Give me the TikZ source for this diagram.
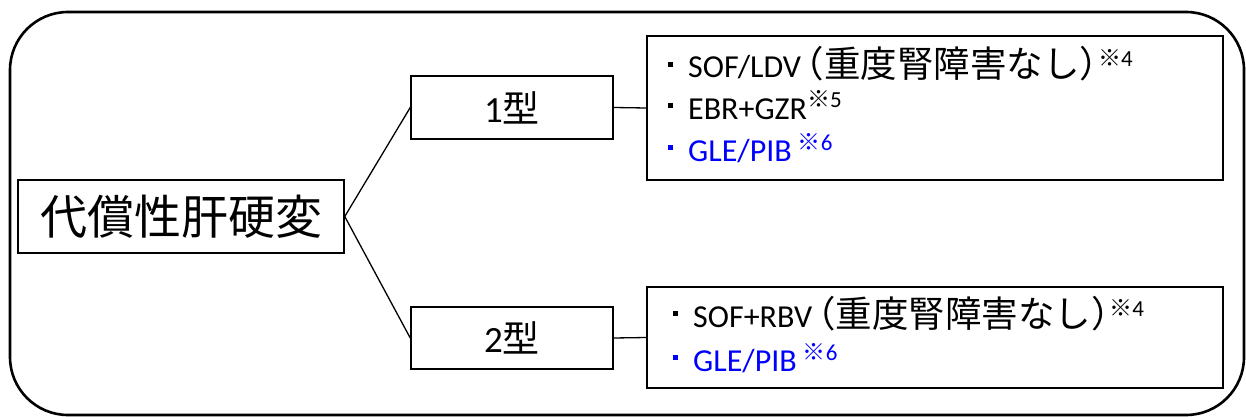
\documentclass[tikz,border=0pt]{standalone}
\usepackage{fontspec}
\setmainfont{Carlito}
\newfontfamily\jp{Noto Sans CJK JP}
\newfontfamily\jph{Noto Sans CJK JP}[RawFeature=+halt]
\newcommand{\sqbul}{\hspace*{2pt}\rule[11pt]{5pt}{5pt}\hspace*{15pt}}
\newcommand{\refmark}[1]{\raisebox{11pt}{\fontsize{23}{23}\selectfont{\jp ※}#1}}
\newcommand{\jpbig}[1]{{\fontsize{36.5}{40}\selectfont\jp #1}}
\newcommand{\jpparen}[1]{{\fontsize{36.5}{40}\selectfont\jph #1}}
\begin{document}
\begin{tikzpicture}[x=1pt,y=-1pt,
  box/.style={draw, line width=1.5pt, inner sep=0pt},
  conn/.style={line width=1.3pt},
  itemtext/.style={anchor=base west, inner sep=0pt, font=\fontsize{32}{40}\selectfont}]
\useasboundingbox (0,0) rectangle (1246,417);
\draw[line width=2.6pt, rounded corners=58pt] (10,12) rectangle (1244,415);

\node[box, minimum width=326pt, minimum height=73pt] (main) at (181,216.5)
  {\fontsize{47}{50}\selectfont\jp 代償性肝硬変};
\node[box, minimum width=202pt, minimum height=63pt] (t1) at (512,107.5)
  {\fontsize{37}{40}\selectfont 1{\jp 型}};
\node[box, minimum width=202pt, minimum height=62pt] (t2) at (512,338)
  {\fontsize{37}{40}\selectfont 2{\jp 型}};
\node[box, minimum width=576pt, minimum height=144pt] (r1) at (935,108) {};
\node[box, minimum width=576pt, minimum height=101pt] (r2) at (935,337.5) {};

\draw[conn] (main.east) -- (t1.west);
\draw[conn] (main.east) -- (t2.west);
\draw[conn] (t1.east) -- (r1.west);
\draw[conn] (t2.east) -- (r2.west);

\node[itemtext] (a1) at (666,78) {\sqbul SOF/LDV\hspace{5pt}\jpparen{（}\jpbig{重度腎障害なし}\jpparen{）}\refmark{4}};
\node[itemtext] (a2) at (666,119) {\sqbul EBR+GZR\refmark{5}};
\node[itemtext, text=blue] (a3) at (666,161) {\sqbul GLE/PIB\hspace{6pt}\refmark{6}};
\node[itemtext] (b1) at (671,327) {\sqbul SOF+RBV\hspace{5pt}\jpparen{（}\jpbig{重度腎障害なし}\jpparen{）}\refmark{4}};
\node[itemtext, text=blue] (b2) at (671,371) {\sqbul GLE/PIB\hspace{6pt}\refmark{6}};
\end{tikzpicture}
\end{document}
